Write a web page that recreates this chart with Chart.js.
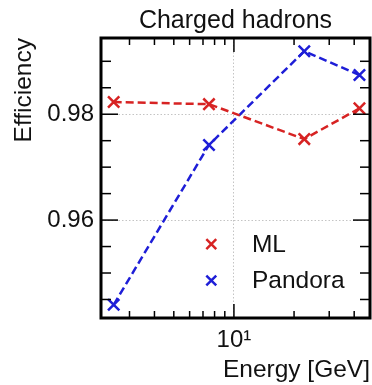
<!DOCTYPE html>
<html><head><meta charset="utf-8">
<script src="https://cdn.jsdelivr.net/npm/chart.js@4/dist/chart.umd.min.js"></script>
<style>html,body{margin:0;padding:0;background:#fff;overflow:hidden}</style>
</head><body>
<canvas id="c" width="372" height="385" style="display:block;width:372px;height:385px"></canvas>
<script>
const titleText = 'Charged hadrons';
const xLabel = 'Energy [GeV]';
const yLabel = 'Efficiency';
const seriesNames = ['ML', 'Pandora'];
const energies = [2.5, 7.5, 22.5, 42.5];
const mlEff = [0.9823, 0.9819, 0.9753, 0.9811];
const pandoraEff = [0.9440, 0.9742, 0.9919, 0.9874];
const xTickValues = [3, 4, 5, 6, 7, 8, 9, 10, 20, 30, 40];
const xMajorTicks = [10];
const xTickLabels = ['10¹'];
const yTickValues = [0.945, 0.95, 0.955, 0.96, 0.965, 0.97, 0.975, 0.98, 0.985, 0.99];
const yMajorTicks = [0.96, 0.98];
const yTickLabels = ['0.96', '0.98'];
const xRange = [2.16, 48];
const yRange = [0.9415, 0.9944];

const RED = 'rgb(215,35,35)';
const BLUE = 'rgb(30,30,215)';
const FONT = 'Liberation Sans, Arial, sans-serif';
const near = (a, b) => Math.abs(a - b) < 1e-9;

const frameTicks = {
  id: 'frameTicks',
  afterDatasetsDraw(chart) {
    const {ctx, chartArea: a, scales: {x, y}} = chart;
    ctx.save();
    ctx.strokeStyle = '#000';
    ctx.lineWidth = 1.5;
    const line = (x1, y1, x2, y2) => { ctx.beginPath(); ctx.moveTo(x1, y1); ctx.lineTo(x2, y2); ctx.stroke(); };
    x.ticks.forEach(t => {
      const px = x.getPixelForValue(t.value);
      const L = xMajorTicks.some(m => near(m, t.value)) ? 14 : 7;
      line(px, a.bottom, px, a.bottom - L);
      line(px, a.top, px, a.top + L);
    });
    y.ticks.forEach(t => {
      const py = y.getPixelForValue(t.value);
      const L = yMajorTicks.some(m => near(m, t.value)) ? 17 : 10;
      line(a.left, py, a.left + L, py);
      line(a.right, py, a.right - L, py);
    });
    ctx.lineWidth = 3;
    ctx.strokeRect(a.left, a.top, a.right - a.left, a.bottom - a.top);
    ctx.restore();
  }
};

const overlayText = {
  id: 'overlayText',
  afterDraw(chart) {
    const {ctx, chartArea: a} = chart;
    ctx.save();
    ctx.font = '25px ' + FONT;
    ctx.fillStyle = '#111';
    ctx.textAlign = 'center';
    ctx.textBaseline = 'alphabetic';
    ctx.fillText(titleText, (a.left + a.right) / 2, a.top - 10);
    const rows = [0.736, 0.866];
    ctx.font = '24.5px ' + FONT;
    ctx.textBaseline = 'middle';
    ctx.textAlign = 'left';
    chart.data.datasets.forEach((ds, i) => {
      const yy = a.top + rows[i] * (a.bottom - a.top);
      const mx = a.left + 0.41 * (a.right - a.left);
      ctx.strokeStyle = ds.borderColor;
      ctx.lineWidth = 2.5;
      const r = 7 * Math.SQRT1_2;
      ctx.beginPath();
      ctx.moveTo(mx - r, yy - r); ctx.lineTo(mx + r, yy + r);
      ctx.moveTo(mx - r, yy + r); ctx.lineTo(mx + r, yy - r);
      ctx.stroke();
      ctx.fillStyle = '#111';
      ctx.fillText(ds.label, a.left + 0.561 * (a.right - a.left), yy + 1);
    });
    ctx.restore();
  }
};

const mk = (vals) => energies.map((e, i) => ({x: e, y: vals[i]}));
const dsStyle = (c) => ({
  borderColor: c, backgroundColor: c, pointBorderColor: c,
  borderWidth: 2.5, borderDash: [8, 4],
  pointStyle: 'crossRot', pointRadius: 8, pointBorderWidth: 2.5,
  fill: false, tension: 0, clip: false
});

new Chart(document.getElementById('c'), {
  type: 'line',
  data: {
    datasets: [
      Object.assign({label: seriesNames[0], data: mk(mlEff)}, dsStyle(RED)),
      Object.assign({label: seriesNames[1], data: mk(pandoraEff)}, dsStyle(BLUE))
    ]
  },
  options: {
    responsive: false,
    devicePixelRatio: 1,
    animation: false,
    layout: {autoPadding: false, padding: {left: 0, right: 2, top: 38, bottom: 0}},
    plugins: {
      legend: {display: false},
      tooltip: {enabled: false},
      title: {display: false}
    },
    scales: {
      x: {
        type: 'logarithmic', min: xRange[0], max: xRange[1],
        afterBuildTicks: s => { s.ticks = xTickValues.map(v => ({value: v})); },
        afterFit: s => { s.height = 67; s.paddingLeft = 0; s.paddingRight = 0; },
        ticks: {
          autoSkip: false, maxRotation: 0, padding: 8, color: '#111',
          font: {family: FONT, size: 24},
          callback: v => { const i = xMajorTicks.findIndex(m => near(m, v)); return i >= 0 ? xTickLabels[i] : ''; }
        },
        grid: {
          drawTicks: false, lineWidth: 1,
          color: c => (c.tick && xMajorTicks.some(m => near(m, c.tick.value))) ? '#c4c4c4' : 'rgba(0,0,0,0)'
        },
        border: {display: false, dash: [1.5, 2]},
        title: {
          display: true, text: xLabel, align: 'end', color: '#111',
          font: {family: FONT, size: 24.5}, padding: {top: 0, bottom: 0}
        }
      },
      y: {
        type: 'linear', min: yRange[0], max: yRange[1],
        afterBuildTicks: s => { s.ticks = yTickValues.map(v => ({value: v})); },
        afterFit: s => { s.width = 101; s.paddingTop = 0; s.paddingBottom = 0; },
        ticks: {
          autoSkip: false, padding: 7, color: '#111',
          font: {family: FONT, size: 24},
          callback: v => { const i = yMajorTicks.findIndex(m => near(m, v)); return i >= 0 ? yTickLabels[i] : ''; }
        },
        grid: {
          drawTicks: false, lineWidth: 1,
          color: c => (c.tick && yMajorTicks.some(m => near(m, c.tick.value))) ? '#c4c4c4' : 'rgba(0,0,0,0)'
        },
        border: {display: false, dash: [1.5, 2]},
        title: {
          display: true, text: yLabel, align: 'end', color: '#111',
          font: {family: FONT, size: 24.5}, padding: {top: 10, bottom: 0}
        }
      }
    }
  },
  plugins: [frameTicks, overlayText]
});
</script>
</body></html>
